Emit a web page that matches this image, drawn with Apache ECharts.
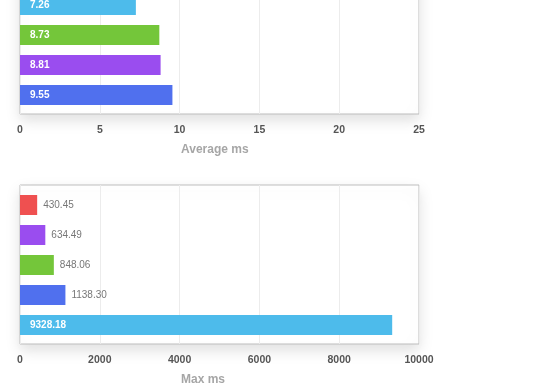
<!DOCTYPE html>
<html>
<head>
<meta charset="utf-8">
<script src="https://cdn.jsdelivr.net/npm/echarts@6/dist/echarts.min.js"></script>
<style>
html,body{margin:0;padding:0;background:#fff;}
#c{width:560px;height:390px;}
</style>
</head>
<body>
<div id="c"></div>
<script>
// Average ms chart (top bar is cut off by the frame in the reference)
var avgTitle = 'Average ms';
var avgCategories = ['Red', 'Cyan', 'Green', 'Purple', 'Blue'];
var avgValues = [5.9, 7.26, 8.73, 8.81, 9.55];
var avgColors = ['#ef5050', '#4dbbeb', '#74c63a', '#9a4def', '#5070ee'];
var avgTicks = { min: 0, max: 25, interval: 5 };

// Max ms chart
var maxTitle = 'Max ms';
var maxCategories = ['Red', 'Purple', 'Green', 'Blue', 'Cyan'];
var maxValues = [430.45, 634.49, 848.06, 1138.30, 9328.18];
var maxColors = ['#ef5050', '#9a4def', '#74c63a', '#5070ee', '#4dbbeb'];
var maxTicks = { min: 0, max: 10000, interval: 2000 };

var FONT = 'Helvetica Neue, Helvetica, Arial, Liberation Sans, sans-serif';

function boxGrid(top) {
  return { left: 20, width: 399, top: top, height: 159, show: true, outerBoundsMode: 'none',
    backgroundColor: '#fff', borderColor: '#bdbdbd', borderWidth: 1,
    shadowBlur: 14, shadowOffsetY: 6, shadowColor: 'rgba(0,0,0,0.13)' };
}
function barGrid(top) {
  return { left: 20, width: 399, top: top, height: 150, outerBoundsMode: 'none' };
}
function boxX(gi, t) {
  return { type: 'value', gridIndex: gi, min: t.min, max: t.max, interval: t.interval,
    axisLine: { show: false }, axisTick: { show: false },
    splitLine: { lineStyle: { color: '#ececec', width: 1 } },
    axisLabel: { color: '#555', fontSize: 10.5, fontWeight: 'bold', fontFamily: FONT, margin: 11,
      formatter: function (v) { return String(v); } } };
}
function hiddenX(gi, t) {
  return { type: 'value', gridIndex: gi, min: t.min, max: t.max, show: false };
}
function hiddenY(gi, cats) {
  return { type: 'category', gridIndex: gi, data: cats, inverse: true, show: false };
}
function axisTitle(text, top) {
  return { text: text, left: 181, top: top, padding: 0,
    textStyle: { color: '#a6a6a6', fontSize: 12, fontWeight: 'bold', fontFamily: FONT } };
}

var avgData = avgValues.map(function (v, i) {
  return { value: v, itemStyle: { color: avgColors[i] } };
});
var maxData = maxValues.map(function (v, i) {
  var inside = v > maxTicks.max * 0.3;
  return { value: v, itemStyle: { color: maxColors[i] },
    label: inside ? { position: 'insideLeft', distance: 10, color: '#fff', fontWeight: 'bold' }
                  : { position: 'right', distance: 6, color: '#777', fontWeight: 'normal' } };
});

var chart = echarts.init(document.getElementById('c'), null, { renderer: 'canvas' });
chart.setOption({
  animation: false,
  title: [axisTitle(avgTitle, 144), axisTitle(maxTitle, 374)],
  grid: [boxGrid(-45), barGrid(-40), boxGrid(185), barGrid(190)],
  xAxis: [boxX(0, avgTicks), hiddenX(1, avgTicks),
          boxX(2, maxTicks), hiddenX(3, maxTicks)],
  yAxis: [hiddenY(0, avgCategories), hiddenY(1, avgCategories),
          hiddenY(2, maxCategories), hiddenY(3, maxCategories)],
  series: [
    { type: 'bar', xAxisIndex: 1, yAxisIndex: 1, barWidth: 20, data: avgData,
      label: { show: true, position: 'insideLeft', distance: 10, color: '#fff',
        fontSize: 10, fontWeight: 'bold', fontFamily: FONT,
        formatter: function (p) { return p.value.toFixed(2); } } },
    { type: 'bar', xAxisIndex: 3, yAxisIndex: 3, barWidth: 20, data: maxData,
      label: { show: true, fontSize: 10, fontFamily: FONT,
        formatter: function (p) { return p.value.toFixed(2); } } }
  ]
});
</script>
</body>
</html>
